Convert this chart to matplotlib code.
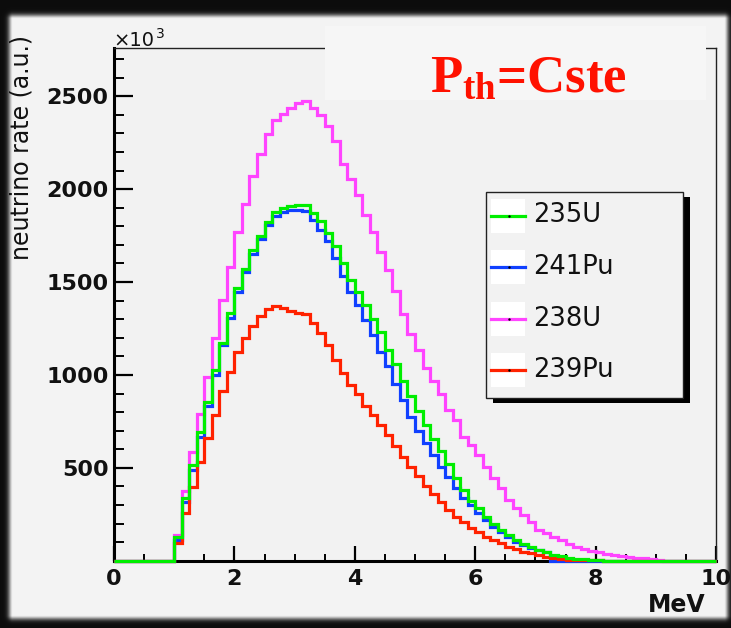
import numpy as np
import matplotlib
matplotlib.use("Agg")
import matplotlib.pyplot as plt
from matplotlib.patches import Rectangle

# bin contents (x10^3), 0.125 MeV bins, first listed bin starts at 1 MeV
bin_width = 0.125
e_start = 1.0

u235 = [129, 336, 516, 695, 857, 1027, 1171, 1333, 1468, 1570, 1670, 1746, 1823, 1877,
        1899, 1907, 1917, 1917, 1872, 1827, 1764, 1692, 1602, 1512, 1444, 1378, 1301, 1230,
        1135, 1060, 970, 884, 808, 731, 655, 590, 520, 445, 380, 322, 282, 237, 200, 165,
        138, 112, 92, 74, 58, 45, 33, 24, 17, 11, 7, 4, 2]
pu241 = [112, 318, 489, 668, 834, 1001, 1162, 1306, 1449, 1554, 1653, 1730, 1805, 1854,
         1877, 1890, 1890, 1881, 1836, 1782, 1719, 1629, 1534, 1444, 1378, 1297, 1216, 1125,
         1050, 952, 866, 776, 700, 633, 570, 506, 453, 390, 336, 300, 255, 219, 183, 156,
         129, 102, 85, 70, 60, 48]
u238 = [138, 377, 584, 789, 991, 1198, 1405, 1579, 1767, 1920, 2073, 2190, 2299, 2371,
        2407, 2437, 2465, 2472, 2439, 2401, 2338, 2258, 2137, 2057, 1967, 1863, 1769, 1662,
        1566, 1453, 1330, 1220, 1135, 1037, 970, 895, 812, 758, 668, 623, 570, 506, 444, 390,
        327, 282, 246, 210, 165, 148, 129, 112, 92, 75, 63, 52, 45, 37, 30, 25, 20, 16, 12, 9, 6]
pu239 = [95, 255, 399, 533, 659, 785, 911, 1018, 1123, 1198, 1265, 1315, 1354, 1369,
         1360, 1345, 1333, 1329, 1279, 1225, 1162, 1083, 1010, 947, 895, 835, 785, 728,
         677, 616, 560, 502, 455, 404, 358, 318, 273, 237, 210, 175, 156, 129, 112, 94,
         75, 61, 48, 40, 31, 22, 13, 9, 6, 4, 3, 2, 2, 1, 1, 1]

legend_labels = ["235U", "241Pu", "238U", "239Pu"]
legend_colors = ["#00ee00", "#1040ff", "#ff44ff", "#ff2200"]

x_ticks = [0, 2, 4, 6, 8, 10]
y_ticks = [500, 1000, 1500, 2000, 2500]

plt.rcParams['mathtext.fontset'] = 'custom'
plt.rcParams['mathtext.rm'] = 'Liberation Serif:bold'
plt.rcParams['mathtext.bf'] = 'Liberation Serif:bold'
plt.rcParams['mathtext.it'] = 'Liberation Serif:bold'

edges = np.linspace(0, 10, 81)


def full_hist(vals):
    h = np.zeros(80)
    i0 = int(round(e_start / bin_width))
    h[i0:i0 + len(vals)] = vals
    return h


W, H = 731, 628
fig = plt.figure(figsize=(W / 100, H / 100), dpi=100)
fig.patch.set_facecolor('black')

# dark slide border around the light panel
bg = fig.add_axes([0, 0, 1, 1], zorder=-1)
yy, xx = np.mgrid[0:H, 0:W] + 0.5
dx = np.maximum(np.maximum(13 - xx, xx - 724), 0)
dy = np.maximum(np.maximum(19 - yy, yy - 615), 0)
d = np.hypot(dx, dy)
shade = 0.05 + 0.90 * np.exp(-(d / 4.5) ** 2)
bg.imshow(shade, cmap='gray', vmin=0, vmax=1, extent=(0, W, H, 0), interpolation='bilinear')
bg.set_xlim(0, W)
bg.set_ylim(H, 0)
bg.axis('off')

ax = fig.add_axes([114 / W, 1 - 560.7 / H, (716 - 114) / W, (560.7 - 48) / H], zorder=1)
ax.set_facecolor('#f2f2f2')

series = [pu241, u238, pu239, u235]
cols = [legend_colors[1], legend_colors[2], legend_colors[3], legend_colors[0]]
for vals, c in zip(series, cols):
    ax.stairs(full_hist(vals), edges, color=c, lw=2.3, zorder=3, clip_on=False)

ax.set_xlim(0, 10)
ax.set_ylim(0, 2760)

ax.spines['left'].set_linewidth(2.2)
ax.spines['bottom'].set_linewidth(2.2)
for s in ['top', 'right']:
    ax.spines[s].set_linewidth(1.0)
    ax.spines[s].set_color('#222222')

ax.set_xticks(x_ticks)
ax.set_xticks(np.arange(0, 10.01, 0.5), minor=True)
ax.set_yticks(y_ticks)
ax.set_yticks(np.arange(0, 2760, 100), minor=True)
ax.tick_params(axis='x', which='major', direction='in', length=11, width=1.6, pad=6,
               labelsize=16, colors='black')
ax.tick_params(axis='x', which='minor', direction='in', length=5, width=1.4)
ax.tick_params(axis='y', which='major', direction='in', length=13.5, width=1.6, pad=4,
               labelsize=16)
ax.tick_params(axis='y', which='minor', direction='in', length=7, width=1.4)
for lab in ax.get_xticklabels() + ax.get_yticklabels():
    lab.set_fontweight('bold')
    lab.set_color('#111111')

fig.text(705 / W, 1 - 605 / H, 'MeV', ha='right', va='center', fontsize=17,
         fontweight='bold', color='#111111')
fig.text(22 / W, 1 - 35 / H, 'neutrino rate (a.u.)', rotation=90, ha='center', va='top',
         fontsize=17, color='#111111')
fig.text(113 / W, 1 - 46 / H, '\u00d710', ha='left', va='baseline', fontsize=14, color='#111111')
fig.text(156 / W, 1 - 38 / H, '3', ha='left', va='baseline', fontsize=10, color='#111111')

# overlay: title box and legend in pixel coordinates
ov = fig.add_axes([0, 0, 1, 1], zorder=5)
ov.set_xlim(0, W)
ov.set_ylim(H, 0)
ov.axis('off')
ov.patch.set_alpha(0)

ov.add_patch(Rectangle((325, 26), 381, 74, facecolor='#f6f6f6', edgecolor='none'))
ov.text(430, 92, r'P$_{\rm th}$=Cste', fontsize=38, family='Liberation Serif',
        fontweight='bold', color='#ff1100', ha='left', va='baseline')

ov.add_patch(Rectangle((493, 197), 197, 206, facecolor='black', edgecolor='none'))
ov.add_patch(Rectangle((486, 192), 197, 206, facecolor='#f2f2f2', edgecolor='#222222', lw=1))
for i, (lab, c) in enumerate(zip(legend_labels, legend_colors)):
    yc = 215.5 + i * 51.5
    ov.add_patch(Rectangle((491, yc - 17), 34, 34, facecolor='white', edgecolor='none'))
    ov.plot([491, 525], [yc, yc], color=c, lw=2.3)
    ov.plot([509], [yc], marker='.', ms=1.5, color='black')
    ov.text(533, yc, lab, fontsize=18.5, va='center', ha='left', color='#111111')

fig.savefig('out.png', dpi=100, facecolor=fig.get_facecolor())
